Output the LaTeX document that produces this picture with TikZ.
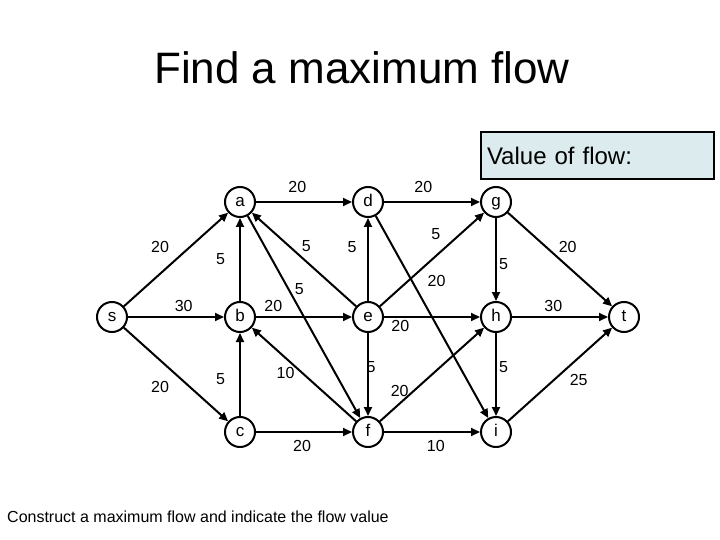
\documentclass[tikz,border=0pt]{standalone}
\usepackage{fontspec}
\setmainfont{Liberation Sans}
\usetikzlibrary{arrows.meta,positioning}
\definecolor{valuefill}{RGB}{219,235,238}
\tikzset{
  flownode/.style={draw, circle, line width=2pt, minimum size=30pt, inner sep=0pt, text height=12pt, text depth=3pt, font=\fontsize{17}{17}\selectfont},
  flowarrow/.style={-{Triangle[length=9pt,width=8pt]}, line width=2pt},
  caplabel/.style={inner sep=2pt, font=\fontsize{16}{16}\selectfont},
  valuebox/.style={draw, line width=2pt, fill=valuefill, anchor=north west, minimum width=233pt, minimum height=47pt, text width=221pt, inner sep=6pt, align=left, font=\fontsize{24}{24}\selectfont}
}
\begin{document}
\begin{tikzpicture}[x=1pt, y=-1pt, node distance=115pt and 128pt, on grid]
  \useasboundingbox (0,0) rectangle (720,540);
  \node[font=\fontsize{44}{44}\selectfont] (title) at (362,68) {Find a maximum flow};
  \node[valuebox] (value) at (480,131) {Value of flow:};
  \node[anchor=west, inner sep=0pt, font=\fontsize{16}{16}\selectfont] (task) at (7,517) {Construct a maximum flow and indicate the flow value};

  \node[flownode] (s) at (112,317) {s};
  \node[flownode, right=of s] (b) {b};
  \node[flownode, above=of b] (a) {a};
  \node[flownode, below=of b] (c) {c};
  \node[flownode, right=of b] (e) {e};
  \node[flownode, above=of e] (d) {d};
  \node[flownode, below=of e] (f) {f};
  \node[flownode, right=of e] (h) {h};
  \node[flownode, above=of h] (g) {g};
  \node[flownode, below=of h] (i) {i};
  \node[flownode, right=of h] (t) {t};

  \draw[flowarrow] (s) -- node[caplabel, pos=.5, above left=4pt and 4pt] (wsa) {20} (a);
  \draw[flowarrow] (s) -- node[caplabel, pos=.58, above=2pt] (wsb) {30} (b);
  \draw[flowarrow] (s) -- node[caplabel, pos=.5, below left=4pt and 4pt] (wsc) {20} (c);
  \draw[flowarrow] (a) -- node[caplabel, pos=.43, above=6pt] (wad) {20} (d);
  \draw[flowarrow] (b) -- node[caplabel, pos=.5, left=12pt] (wba) {5} (a);
  \draw[flowarrow] (e) -- node[caplabel, pos=.55, above right] (wea) {5} (a);
  \draw[flowarrow] (a) -- node[caplabel, pos=.36, right=3.5pt] (waf) {5} (f);
  \draw[flowarrow] (b) -- node[caplabel, pos=.18, above=2pt] (wbe) {20} (e);
  \draw[flowarrow] (e) -- node[caplabel, pos=.65, left=8.5pt] (wed) {5} (d);
  \draw[flowarrow] (d) -- node[caplabel, pos=.41, above=6pt] (wdg) {20} (g);
  \draw[flowarrow] (e) -- node[caplabel, pos=.64, above left=3.4pt and 3.4pt] (weg) {5} (g);
  \draw[flowarrow] (d) -- node[caplabel, pos=.39, above right=5pt and 5pt] (wdi) {20} (i);
  \draw[flowarrow] (g) -- node[caplabel, pos=.56, right] (wgh) {5} (h);
  \draw[flowarrow] (g) -- node[caplabel, pos=.46, above right] (wgt) {20} (t);
  \draw[flowarrow] (e) -- node[caplabel, pos=.17, below=0pt] (weh) {20} (h);
  \draw[flowarrow] (h) -- node[caplabel, pos=.43, above=2pt] (wht) {30} (t);
  \draw[flowarrow] (c) -- node[caplabel, pos=.45, left=12pt] (wcb) {5} (b);
  \draw[flowarrow] (f) -- node[caplabel, pos=.52, left=4.5pt] (wfb) {10} (b);
  \draw[flowarrow] (e) -- node[caplabel, pos=.41, right=-4.5pt] (wef) {5} (f);
  \draw[flowarrow] (c) -- node[caplabel, pos=.48, below=5pt] (wcf) {20} (f);
  \draw[flowarrow] (f) -- node[caplabel, pos=.32, left=1.6pt] (wfh) {20} (h);
  \draw[flowarrow] (f) -- node[caplabel, pos=.54, below=5pt] (wfi) {10} (i);
  \draw[flowarrow] (h) -- node[caplabel, pos=.41, right] (whi) {5} (i);
  \draw[flowarrow] (i) -- node[caplabel, pos=.55, below right=1.6pt and 1.6pt] (wit) {25} (t);
\end{tikzpicture}
\end{document}
